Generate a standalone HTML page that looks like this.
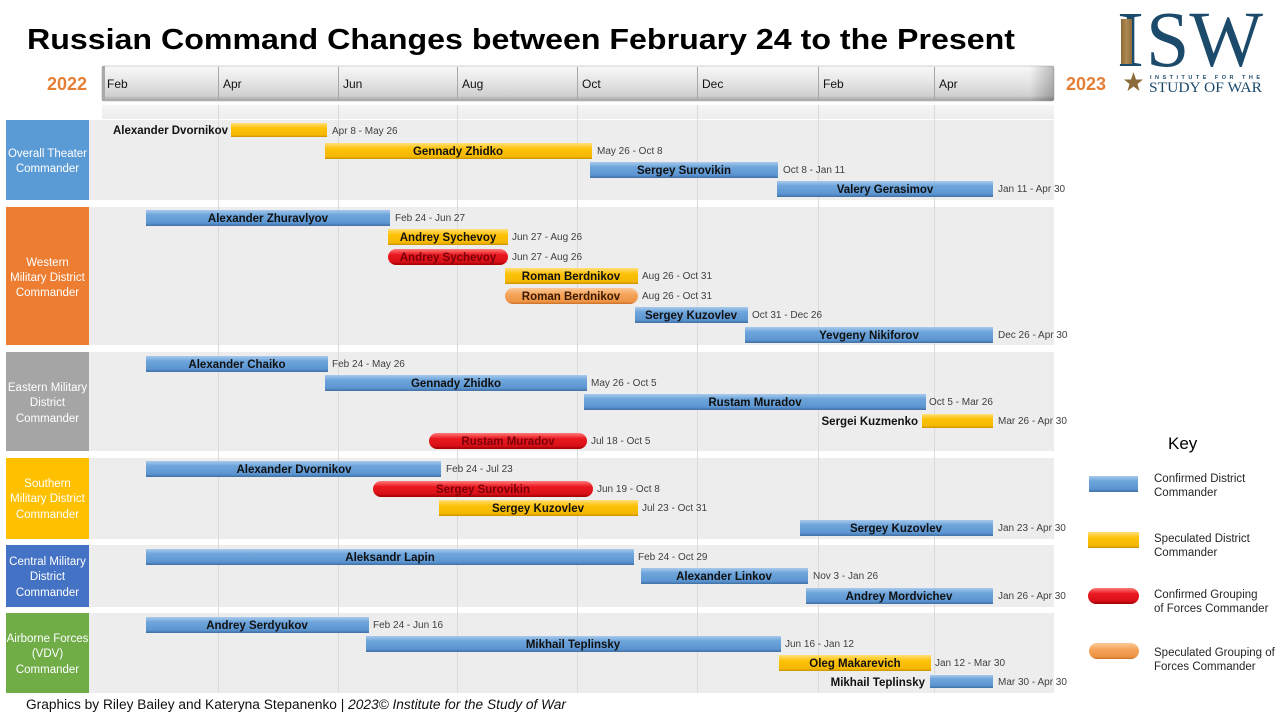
<!DOCTYPE html>
<html><head><meta charset="utf-8"><style>
html,body{margin:0;padding:0;background:#fff;}
svg{display:block;}
text{font-family:"Liberation Sans",Arial,sans-serif;}
.n{font-size:11.5px;font-weight:bold;fill:#111;text-anchor:middle;}
.nl{font-size:11.5px;font-weight:bold;fill:#111;text-anchor:end;}
.nr{font-size:11.5px;font-weight:bold;fill:#7a0008;text-anchor:middle;}
.d{font-size:10px;fill:#404040;}
.lb{font-size:11.5px;fill:#fff;text-anchor:middle;}
.m{font-size:12px;fill:#111;}
.k{font-size:11.5px;fill:#262626;}
</style></head><body>
<svg width="1280" height="720" viewBox="0 0 1280 720" xmlns="http://www.w3.org/2000/svg">
<defs>
<linearGradient id="hdr" x1="0" y1="0" x2="0" y2="1">
<stop offset="0" stop-color="#f8f8f8"/><stop offset="0.45" stop-color="#e6e6e6"/><stop offset="0.85" stop-color="#d0d0d0"/><stop offset="1" stop-color="#9c9c9c"/>
</linearGradient>
<linearGradient id="hdrR" x1="0" y1="0" x2="1" y2="0">
<stop offset="0" stop-color="#000" stop-opacity="0"/><stop offset="1" stop-color="#000" stop-opacity="0.25"/>
</linearGradient>
<linearGradient id="strip" x1="0" y1="0" x2="0" y2="1">
<stop offset="0" stop-color="#f6f6f6"/><stop offset="1" stop-color="#ececec"/>
</linearGradient>
<linearGradient id="gB" x1="0" y1="0" x2="0" y2="1">
<stop offset="0" stop-color="#a9c9eb"/><stop offset="0.3" stop-color="#6fa6dc"/><stop offset="0.82" stop-color="#5b94d0"/><stop offset="1" stop-color="#3f70a3"/>
</linearGradient>
<linearGradient id="gY" x1="0" y1="0" x2="0" y2="1">
<stop offset="0" stop-color="#ffe07a"/><stop offset="0.35" stop-color="#ffc20a"/><stop offset="0.85" stop-color="#f5b800"/><stop offset="1" stop-color="#c79300"/>
</linearGradient>
<linearGradient id="gR" x1="0" y1="0" x2="0" y2="1">
<stop offset="0" stop-color="#ff7c7c"/><stop offset="0.35" stop-color="#ea1820"/><stop offset="0.8" stop-color="#d81018"/><stop offset="1" stop-color="#a00000"/>
</linearGradient>
<linearGradient id="gO" x1="0" y1="0" x2="0" y2="1">
<stop offset="0" stop-color="#fcc996"/><stop offset="0.4" stop-color="#f5a45c"/><stop offset="0.85" stop-color="#ef9444"/><stop offset="1" stop-color="#c8702a"/>
</linearGradient>
<linearGradient id="gold" x1="0" y1="0" x2="1" y2="0">
<stop offset="0" stop-color="#8c6a3a"/><stop offset="0.5" stop-color="#b08a52"/><stop offset="1" stop-color="#8c6a3a"/>
</linearGradient>
</defs>

<!-- Title -->
<text x="27" y="49" font-size="29" font-weight="bold" fill="#000" textLength="988" lengthAdjust="spacingAndGlyphs">Russian Command Changes between February 24 to the Present</text>

<!-- Logo -->
<text x="1117" y="66" font-size="79" fill="#1b4a6b" textLength="27" lengthAdjust="spacingAndGlyphs" style="font-family:'Liberation Serif',serif">I</text>
<rect x="1121" y="19" width="11" height="45" fill="url(#gold)"/>
<text x="1146" y="66" font-size="79" fill="#1b4a6b" textLength="117" lengthAdjust="spacingAndGlyphs" style="font-family:'Liberation Serif',serif">SW</text>
<polygon points="1133.5,72 1136,79.5 1143,79.5 1137.5,84 1139.5,91 1133.5,86.5 1127.5,91 1129.5,84 1124,79.5 1131,79.5" fill="#8c6a3a"/>
<text x="1150" y="79" font-size="5.5" font-weight="bold" fill="#1b4a6b" textLength="110" lengthAdjust="spacing">INSTITUTE FOR THE</text>
<text x="1149" y="92" font-size="15" fill="#1b4a6b" textLength="113" lengthAdjust="spacingAndGlyphs" style="font-family:'Liberation Serif',serif">STUDY OF WAR</text>

<!-- Year labels -->
<text x="47" y="90" font-size="18" font-weight="bold" fill="#e57f35">2022</text>
<text x="1066" y="90" font-size="18" font-weight="bold" fill="#e57f35">2023</text>

<!-- Header bar -->
<rect x="102" y="66" width="952" height="35" rx="2" fill="url(#hdr)" stroke="#c4c4c4" stroke-width="0.8"/>
<rect x="1030" y="66" width="24" height="35" rx="2" fill="url(#hdrR)"/>
<rect x="102" y="66" width="3" height="35" fill="#a9a9a9"/>
<rect x="102" y="105" width="952" height="14" fill="url(#strip)"/>
<g stroke="#a8a8a8" stroke-width="1">
<line x1="218.5" y1="67" x2="218.5" y2="100"/><line x1="338.5" y1="67" x2="338.5" y2="100"/>
<line x1="457.5" y1="67" x2="457.5" y2="100"/><line x1="577.5" y1="67" x2="577.5" y2="100"/>
<line x1="697.5" y1="67" x2="697.5" y2="100"/><line x1="818.5" y1="67" x2="818.5" y2="100"/>
<line x1="934.5" y1="67" x2="934.5" y2="100"/>
</g>
<text class="m" x="107" y="88">Feb</text>
<text class="m" x="223" y="88">Apr</text>
<text class="m" x="343" y="88">Jun</text>
<text class="m" x="462" y="88">Aug</text>
<text class="m" x="582" y="88">Oct</text>
<text class="m" x="702" y="88">Dec</text>
<text class="m" x="823" y="88">Feb</text>
<text class="m" x="939" y="88">Apr</text>

<!-- Panels -->
<g fill="#ededed">
<rect x="89" y="120" width="965" height="80"/>
<rect x="89" y="207" width="965" height="138"/>
<rect x="89" y="352" width="965" height="99"/>
<rect x="89" y="458" width="965" height="81"/>
<rect x="89" y="545" width="965" height="62"/>
<rect x="89" y="613" width="965" height="80"/>
</g>
<!-- Grid lines -->
<g stroke="#dadada" stroke-width="1">
<line x1="218.5" y1="105" x2="218.5" y2="693"/><line x1="338.5" y1="105" x2="338.5" y2="693"/>
<line x1="457.5" y1="105" x2="457.5" y2="693"/><line x1="577.5" y1="105" x2="577.5" y2="693"/>
<line x1="697.5" y1="105" x2="697.5" y2="693"/><line x1="818.5" y1="105" x2="818.5" y2="693"/>
<line x1="934.5" y1="105" x2="934.5" y2="693"/>
</g>

<!-- Row label boxes -->
<rect x="6" y="120" width="83" height="80" fill="#5b9bd5"/>
<rect x="6" y="207" width="83" height="138" fill="#ed7d31"/>
<rect x="6" y="352" width="83" height="99" fill="#a5a5a5"/>
<rect x="6" y="458" width="83" height="81" fill="#ffc000"/>
<rect x="6" y="545" width="83" height="62" fill="#4472c4"/>
<rect x="6" y="613" width="83" height="80" fill="#70ad47"/>

<text class="lb" x="47.5" y="157">Overall Theater</text>
<text class="lb" x="47.5" y="172">Commander</text>
<text class="lb" x="47.5" y="266">Western</text>
<text class="lb" x="47.5" y="281">Military District</text>
<text class="lb" x="47.5" y="296">Commander</text>
<text class="lb" x="47.5" y="391">Eastern Military</text>
<text class="lb" x="47.5" y="406">District</text>
<text class="lb" x="47.5" y="422">Commander</text>
<text class="lb" x="47.5" y="487">Southern</text>
<text class="lb" x="47.5" y="502">Military District</text>
<text class="lb" x="47.5" y="518">Commander</text>
<text class="lb" x="47.5" y="565">Central Military</text>
<text class="lb" x="47.5" y="580">District</text>
<text class="lb" x="47.5" y="596">Commander</text>
<text class="lb" x="47.5" y="642">Airborne Forces</text>
<text class="lb" x="47.5" y="657">(VDV)</text>
<text class="lb" x="47.5" y="673">Commander</text>

<!-- Row 1: Overall -->
<rect x="231" y="123" width="96" height="14" fill="url(#gY)"/>
<text class="nl" x="228" y="134">Alexander Dvornikov</text>
<text class="d" x="332" y="134">Apr 8 - May 26</text>
<rect x="325" y="143" width="267" height="16" fill="url(#gY)"/>
<text class="n" x="458" y="155">Gennady Zhidko</text>
<text class="d" x="597" y="154">May 26 - Oct 8</text>
<rect x="590" y="162" width="188" height="16" fill="url(#gB)"/>
<text class="n" x="684" y="174">Sergey Surovikin</text>
<text class="d" x="783" y="173">Oct 8 - Jan 11</text>
<rect x="777" y="181" width="216" height="16" fill="url(#gB)"/>
<text class="n" x="885" y="193">Valery Gerasimov</text>
<text class="d" x="998" y="192">Jan 11 - Apr 30</text>

<!-- Row 2: Western -->
<rect x="146" y="210" width="244" height="16" fill="url(#gB)"/>
<text class="n" x="268" y="222">Alexander Zhuravlyov</text>
<text class="d" x="395" y="221">Feb 24 - Jun 27</text>
<rect x="388" y="229" width="120" height="16" fill="url(#gY)"/>
<text class="n" x="448" y="241">Andrey Sychevoy</text>
<text class="d" x="512" y="240">Jun 27 - Aug 26</text>
<rect x="388" y="249" width="120" height="16" rx="8" fill="url(#gR)"/>
<text class="nr" x="448" y="261">Andrey Sychevoy</text>
<text class="d" x="512" y="260">Jun 27 - Aug 26</text>
<rect x="505" y="268" width="133" height="16" fill="url(#gY)"/>
<text class="n" x="571" y="280">Roman Berdnikov</text>
<text class="d" x="642" y="279">Aug 26 - Oct 31</text>
<rect x="505" y="288" width="133" height="16" rx="8" fill="url(#gO)"/>
<text class="n" x="571" y="300" style="fill:#3a1a00">Roman Berdnikov</text>
<text class="d" x="642" y="299">Aug 26 - Oct 31</text>
<rect x="635" y="307" width="113" height="16" fill="url(#gB)"/>
<text class="n" x="691" y="319">Sergey Kuzovlev</text>
<text class="d" x="752" y="318">Oct 31 - Dec 26</text>
<rect x="745" y="327" width="248" height="16" fill="url(#gB)"/>
<text class="n" x="869" y="339">Yevgeny Nikiforov</text>
<text class="d" x="998" y="338">Dec 26 - Apr 30</text>

<!-- Row 3: Eastern -->
<rect x="146" y="356" width="182" height="16" fill="url(#gB)"/>
<text class="n" x="237" y="368">Alexander Chaiko</text>
<text class="d" x="332" y="367">Feb 24 - May 26</text>
<rect x="325" y="375" width="262" height="16" fill="url(#gB)"/>
<text class="n" x="456" y="387">Gennady Zhidko</text>
<text class="d" x="591" y="386">May 26 - Oct 5</text>
<rect x="584" y="394" width="342" height="16" fill="url(#gB)"/>
<text class="n" x="755" y="406">Rustam Muradov</text>
<text class="d" x="929" y="405">Oct 5 - Mar 26</text>
<rect x="922" y="414" width="71" height="14" fill="url(#gY)"/>
<text class="nl" x="918" y="425">Sergei Kuzmenko</text>
<text class="d" x="998" y="424">Mar 26 - Apr 30</text>
<rect x="429" y="433" width="158" height="16" rx="8" fill="url(#gR)"/>
<text class="nr" x="508" y="445">Rustam Muradov</text>
<text class="d" x="591" y="444">Jul 18 - Oct 5</text>

<!-- Row 4: Southern -->
<rect x="146" y="461" width="295" height="16" fill="url(#gB)"/>
<text class="n" x="294" y="473">Alexander Dvornikov</text>
<text class="d" x="446" y="472">Feb 24 - Jul 23</text>
<rect x="373" y="481" width="220" height="16" rx="8" fill="url(#gR)"/>
<text class="nr" x="483" y="493">Sergey Surovikin</text>
<text class="d" x="597" y="492">Jun 19 - Oct 8</text>
<rect x="439" y="500" width="199" height="16" fill="url(#gY)"/>
<text class="n" x="538" y="512">Sergey Kuzovlev</text>
<text class="d" x="642" y="511">Jul 23 - Oct 31</text>
<rect x="800" y="520" width="193" height="16" fill="url(#gB)"/>
<text class="n" x="896" y="532">Sergey Kuzovlev</text>
<text class="d" x="998" y="531">Jan 23 - Apr 30</text>

<!-- Row 5: Central -->
<rect x="146" y="549" width="488" height="16" fill="url(#gB)"/>
<text class="n" x="390" y="561">Aleksandr Lapin</text>
<text class="d" x="638" y="560">Feb 24 - Oct 29</text>
<rect x="641" y="568" width="167" height="16" fill="url(#gB)"/>
<text class="n" x="724" y="580">Alexander Linkov</text>
<text class="d" x="813" y="579">Nov 3 - Jan 26</text>
<rect x="806" y="588" width="187" height="16" fill="url(#gB)"/>
<text class="n" x="899" y="600">Andrey Mordvichev</text>
<text class="d" x="998" y="599">Jan 26 - Apr 30</text>

<!-- Row 6: VDV -->
<rect x="146" y="617" width="223" height="16" fill="url(#gB)"/>
<text class="n" x="257" y="629">Andrey Serdyukov</text>
<text class="d" x="373" y="628">Feb 24 - Jun 16</text>
<rect x="366" y="636" width="415" height="16" fill="url(#gB)"/>
<text class="n" x="573" y="648">Mikhail Teplinsky</text>
<text class="d" x="785" y="647">Jun 16 - Jan 12</text>
<rect x="779" y="655" width="152" height="16" fill="url(#gY)"/>
<text class="n" x="855" y="667">Oleg Makarevich</text>
<text class="d" x="935" y="666">Jan 12 - Mar 30</text>
<rect x="930" y="675" width="63" height="13" fill="url(#gB)"/>
<text class="nl" x="925" y="686">Mikhail Teplinsky</text>
<text class="d" x="998" y="685">Mar 30 - Apr 30</text>

<!-- Key -->
<text x="1168" y="449" font-size="17" fill="#000">Key</text>
<rect x="1089" y="476" width="49" height="16" fill="url(#gB)"/>
<text class="k" x="1154" y="482">Confirmed District</text>
<text class="k" x="1154" y="496">Commander</text>
<rect x="1088" y="532" width="51" height="16" fill="url(#gY)"/>
<text class="k" x="1154" y="542">Speculated District</text>
<text class="k" x="1154" y="556">Commander</text>
<rect x="1088" y="588" width="51" height="16" rx="8" fill="url(#gR)"/>
<text class="k" x="1154" y="598">Confirmed Grouping</text>
<text class="k" x="1154" y="612">of Forces Commander</text>
<rect x="1089" y="643" width="50" height="16" rx="8" fill="url(#gO)"/>
<text class="k" x="1154" y="656">Speculated Grouping of</text>
<text class="k" x="1154" y="670">Forces Commander</text>

<!-- Footer -->
<text x="26" y="709" font-size="13.5" fill="#111" textLength="540" lengthAdjust="spacingAndGlyphs">Graphics by Riley Bailey and Kateryna Stepanenko | <tspan font-style="italic">2023© Institute for the Study of War</tspan></text>
</svg>
</body></html>
